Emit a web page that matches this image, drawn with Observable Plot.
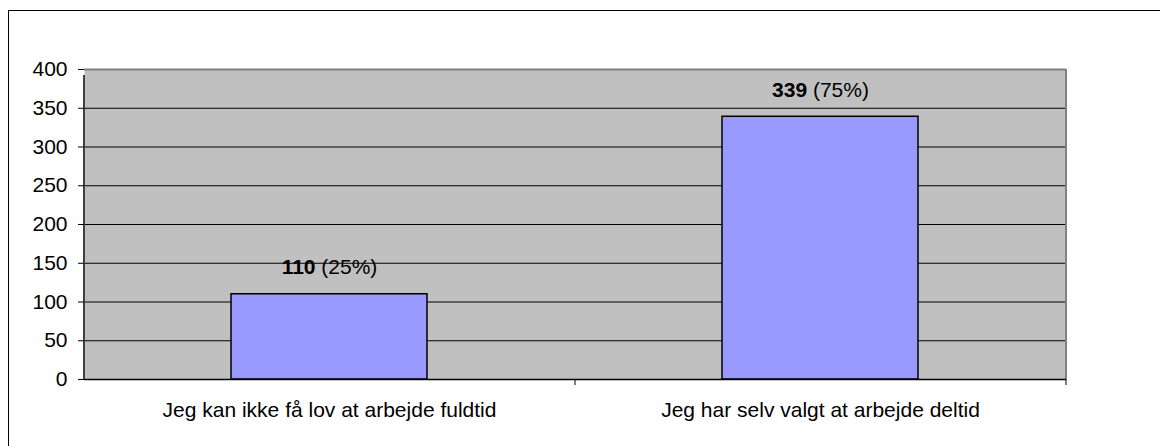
<!DOCTYPE html>
<html>
<head>
<meta charset="utf-8">
<script src="https://cdn.jsdelivr.net/npm/d3@7"></script>
<script src="https://cdn.jsdelivr.net/npm/@observablehq/plot@0.6"></script>
<style>
  html, body { margin: 0; padding: 0; background: #fff; }
  #wrap { position: relative; width: 1160px; height: 446px; overflow: hidden; }
  #border { position: absolute; left: 8px; top: 10px; width: 2000px; height: 2000px;
            border-top: 1.5px solid #000; border-left: 1.5px solid #000; box-sizing: border-box; }
  #chart { position: absolute; left: 0; top: 0; }
</style>
</head>
<body>
<div id="wrap"><div id="border"></div><div id="chart"></div></div>
<script>
const categories = ["Jeg kan ikke få lov at arbejde fuldtid", "Jeg har selv valgt at arbejde deltid"];
const counts = [110, 339];
const percents = [25, 75];
const yTicks = [0, 50, 100, 150, 200, 250, 300, 350, 400];

const data = categories.map((c, i) => ({cat: c, n: counts[i], pct: percents[i]}));
const font = "'Liberation Sans', Arial, Helvetica, sans-serif";
const FS = 21;

const chart = Plot.plot({
  width: 1160,
  height: 446,
  marginLeft: 84,
  marginRight: 94,
  marginTop: 69,
  marginBottom: 67,
  style: {fontFamily: font, fontSize: FS + "px", color: "#000", background: "transparent"},
  x: {type: "band", domain: categories, paddingInner: 0.6, paddingOuter: 0.3, label: null},
  y: {type: "linear", domain: [0, 400], label: null},
  marks: [
    Plot.frame({fill: "#C0C0C0", stroke: null}),
    Plot.ruleY(yTicks.filter(t => t > 0 && t < 400), {stroke: "#000", strokeWidth: 1}),
    Plot.ruleY([400], {stroke: "#808080", strokeWidth: 2}),
    Plot.ruleX([categories[1]], {dx: 245.5, y1: 0, y2: 400, stroke: "#808080", strokeWidth: 2}),
    Plot.barY(data, {x: "cat", y: "n", fill: "#9999FF", stroke: "#000", strokeWidth: 1.5}),
    Plot.ruleY([0], {stroke: "#000", strokeWidth: 1.5}),
    Plot.ruleX([categories[0]], {dx: -245.5, y1: 0, y2: 400, insetBottom: -6, stroke: "#404040", strokeWidth: 2}),
    // category boundary ticks below the axis
    Plot.ruleX([categories[1]], {dx: -245.5, y1: 0, y2: 0, insetBottom: -6, stroke: "#000", strokeWidth: 1}),
    Plot.ruleX([categories[1]], {dx: 245.5, y1: 0, y2: 0, insetBottom: -6, stroke: "#000", strokeWidth: 1}),
    Plot.axisY({ticks: yTicks, tickSize: 6, tickPadding: 11, fontSize: FS, stroke: "#000"}),
    Plot.axisX({tickSize: 0, tickPadding: 23, fontSize: FS}),
    Plot.text(data, {x: "cat", y: "n", text: d => `${d.n} (${d.pct}%)`, dy: -27, fontSize: FS, fill: "#000", className: "vlabel"})
  ]
});

document.getElementById("chart").appendChild(chart);

// Bold count, regular percentage
d3.select(chart).selectAll(".vlabel text").each(function() {
  const t = this.textContent;
  const i = t.indexOf(" ");
  const sel = d3.select(this);
  sel.text(null);
  sel.append("tspan").attr("font-weight", "bold").text(t.slice(0, i));
  sel.append("tspan").text(t.slice(i));
});
</script>
</body>
</html>
